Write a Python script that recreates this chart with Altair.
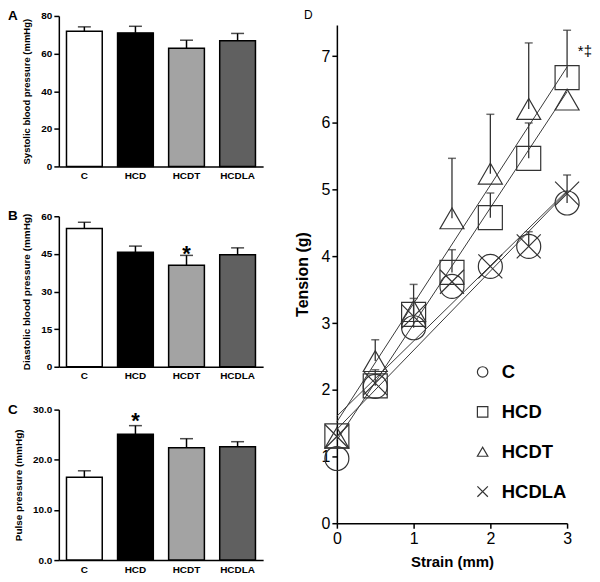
import altair as alt
import pandas as pd

groups = ["C", "HCD", "HCDT", "HCDLA"]
bar_colors = ["#ffffff", "#000000", "#a3a3a3", "#606060"]

sbp_mean = [71.8, 71.0, 62.8, 66.8]
sbp_upper = [74.2, 74.5, 67.1, 70.7]
dbp_mean = [55.1, 45.7, 40.5, 44.7]
dbp_upper = [57.6, 48.1, 44.4, 47.4]
pp_mean = [16.5, 25.1, 22.4, 22.6]
pp_upper = [17.8, 26.8, 24.2, 23.6]

strain = [0, 0.5, 1, 1.5, 2, 2.5, 3]
tension_C = [0.97, 2.05, 2.93, 3.55, 3.85, 4.15, 4.80]
tension_HCD = [1.31, 2.06, 3.13, 3.76, 4.58, 5.47, 6.68]
tension_HCDT = [1.28, 2.43, 3.18, 4.57, 5.24, 6.21, 6.35]
tension_HCDLA = [1.30, 2.10, 3.10, 3.62, 3.85, 4.15, 4.94]
upper_C = [None, None, 3.37, None, None, 4.37, 5.22]
upper_HCD = [None, 2.30, 3.58, 4.10, 4.95, 6.00, 7.39]
upper_HCDT = [None, 2.75, None, 5.47, 6.13, 7.20, None]
upper_HCDLA = [None, None, None, None, None, None, None]

FONT = "Liberation Sans"


def bar_panel(letter, means, uppers, ytitle, ymax, ticks, fmt, star_idx, star_y, title_size):
    df = pd.DataFrame({"group": groups, "mean": means, "upper": uppers})
    base = alt.Chart(df)
    x_axis = alt.Axis(title=None, labelAngle=0, ticks=False, labelPadding=4,
                      labelFontWeight="bold", labelFontSize=10)
    x_scale = alt.Scale(paddingInner=0.3, paddingOuter=0.15)
    y_axis = alt.Axis(values=ticks, format=fmt, title=ytitle, titleFontSize=title_size,
                      titleFontWeight="bold", labelFontWeight="bold", labelFontSize=10,
                      titlePadding=9, labelOverlap=False, labelFlush=False)
    y_scale = alt.Scale(domain=[0, ymax], nice=False)

    def X():
        return alt.X("group:N", sort=groups, scale=x_scale, axis=x_axis)

    def Y(field):
        return alt.Y(field, scale=y_scale, axis=y_axis)

    bars = base.mark_bar(stroke="black", strokeWidth=1.5).encode(
        x=X(), y=Y("mean:Q"),
        fill=alt.Fill("group:N", scale=alt.Scale(domain=groups, range=bar_colors), legend=None))
    rule = base.mark_rule(color="black", strokeWidth=1.5).encode(
        x=X(), y=Y("mean:Q"), y2="upper:Q")
    cap = base.mark_tick(orient="horizontal", size=13, thickness=1.5, color="black").encode(
        x=X(), y=Y("upper:Q"))
    layers = [bars, rule, cap]
    if star_idx is not None:
        sdf = pd.DataFrame({"group": [groups[star_idx]], "sy": [star_y], "t": ["*"]})
        star = alt.Chart(sdf).mark_text(fontSize=22, fontWeight="bold", font=FONT, color="black",
                                        baseline="middle", dy=5).encode(
            x=X(), y=Y("sy:Q"), text="t:N")
        layers.append(star)
    lab = alt.Chart(pd.DataFrame({"t": [letter]})).mark_text(
        fontSize=13.5, fontWeight="bold", font=FONT, align="left", baseline="middle",
        color="black").encode(x=alt.value(-51), y=alt.value(0), text="t:N")
    layers.append(lab)
    return alt.layer(*layers).properties(width=205, height=151)


pA = bar_panel("A", sbp_mean, sbp_upper, "Systolic  blood  pressure (mmHg)", 80,
               [0, 20, 40, 60, 80], "d", None, None, 9.5)
pB = bar_panel("B", dbp_mean, dbp_upper, "Diastolic blood pressure (mmHg)", 60,
               [0, 15, 30, 45, 60], "d", 2, 47.0, 10)
pC = bar_panel("C", pp_mean, pp_upper, "Pulse pressure (mmHg)", 30,
               [0, 10, 20, 30], ".1f", 1, 28.7, 10)

rows = []
series = [("C", tension_C, upper_C), ("HCD", tension_HCD, upper_HCD),
          ("HCDT", tension_HCDT, upper_HCDT), ("HCDLA", tension_HCDLA, upper_HCDLA)]
for g, vals, ups in series:
    for s, v, u in zip(strain, vals, ups):
        rows.append({"group": g, "strain": s, "tension": v, "upper": u})
dfD = pd.DataFrame(rows)

xD_scale = alt.Scale(domain=[0, 3], nice=False)
xD_axis = alt.Axis(values=[0, 1, 2, 3], format="d", title="Strain (mm)", titleFontSize=15,
                   titleFontWeight="bold", labelFontSize=16, titlePadding=8, labelOverlap=False,
                   labelFlush=False)
yD_scale = alt.Scale(domain=[0, 7.47], nice=False)
yD_axis = alt.Axis(values=[0, 1, 2, 3, 4, 5, 6, 7], format="d", title="Tension (g)",
                   titleFontSize=16, titleFontWeight="bold", labelFontSize=16,
                   titlePadding=11, labelOverlap=False, labelFlush=False)


def XD(field="strain:Q"):
    return alt.X(field, scale=xD_scale, axis=xD_axis)


def YD(field="tension:Q"):
    return alt.Y(field, scale=yD_scale, axis=yD_axis)


shape_scale = alt.Scale(domain=groups,
                        range=["circle", "square", "triangle-up", "M-1,-1L1,1M-1,1L1,-1"])

baseD = alt.Chart(dfD)
errD = baseD.transform_filter("isValid(datum.upper)").mark_rule(
    color="#333", strokeWidth=1.3).encode(x=XD(), y=YD(), y2="upper:Q")
capD = baseD.transform_filter("isValid(datum.upper)").mark_tick(
    orient="horizontal", size=8, thickness=1.5, color="#333").encode(x=XD(), y=YD("upper:Q"))
fitD = baseD.transform_regression("strain", "tension", groupby=["group"]).mark_line(
    color="#3a3a3a", strokeWidth=1).encode(x=XD(), y=YD(), detail="group:N")
ptsD = baseD.mark_point(filled=False, color="#333", strokeWidth=1.2, size=580, opacity=1).encode(
    x=XD(), y=YD(),
    shape=alt.Shape("group:N", scale=shape_scale,
                    legend=alt.Legend(title=None, orient="none", legendX=137, legendY=348,
                                      labelFontSize=18.5, labelFontWeight="bold", symbolSize=110,
                                      symbolStrokeWidth=1.2, rowPadding=21, labelOffset=10,
                                      symbolStrokeColor="#333", labelColor="black")))
annD = alt.Chart(pd.DataFrame({"strain": [3.14], "tension": [7.08], "t": ["*\u2021"]})).mark_text(
    fontSize=15, font=FONT, align="left", baseline="middle", color="black").encode(
    x=XD(), y=YD(), text="t:N")
pD = alt.layer(errD, capD, fitD, ptsD, annD).properties(width=231, height=500)

spacer = alt.Chart(pd.DataFrame({"t": ["D"]})).mark_text(
    fontSize=12, font=FONT, align="left", baseline="middle", color="black").encode(
    x=alt.value(-33), y=alt.value(-1), text="t:N").properties(width=231, height=1)

left = alt.vconcat(alt.vconcat(pA, pB, spacing=29), pC, spacing=22)
right = alt.vconcat(spacer, pD, spacing=4)
chart = alt.concat(left, right, columns=2, spacing=31, align="none").resolve_scale(
    shape="independent").resolve_legend(shape="independent").properties(
    padding=0).configure_view(stroke=None).configure_axis(
    domainColor="black", domainWidth=1.5, tickColor="black", tickWidth=1.5, tickSize=5,
    labelColor="black", titleColor="black", labelFont=FONT, titleFont=FONT, grid=False
).configure_legend(labelFont=FONT, labelColor="black")

chart.save("out.html", embed_options={"renderer": "svg", "actions": False})
